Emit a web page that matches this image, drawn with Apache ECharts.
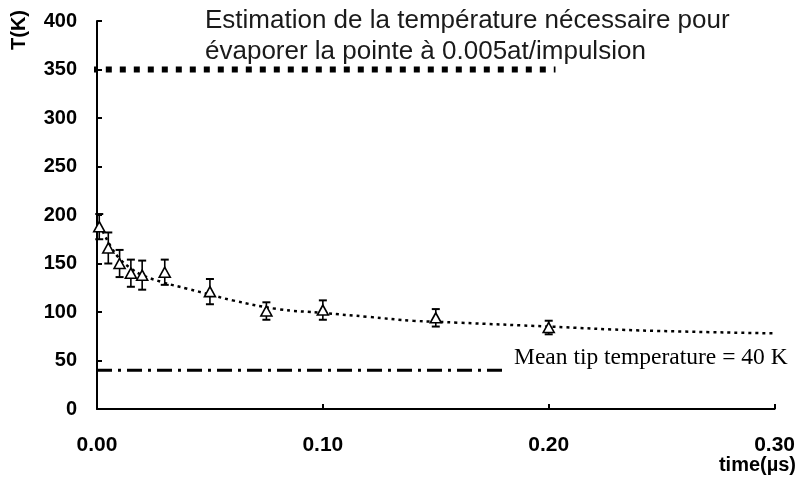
<!DOCTYPE html>
<html>
<head>
<meta charset="utf-8">
<script src="https://cdn.jsdelivr.net/npm/echarts@6/dist/echarts.min.js"></script>
<style>html,body{margin:0;padding:0;background:#fff;}#c{width:798px;height:482px;}</style>
</head>
<body>
<div id="c"></div>
<script>
// measured points (time in µs, temperature in K, error half-width)
const timeUs = [0.001, 0.005, 0.01, 0.015, 0.02, 0.03, 0.05, 0.075, 0.10, 0.15, 0.20];
const tempK = [188, 166, 150, 140, 138, 141, 121, 101, 102, 94, 84];
const tempErr = [13, 16, 14, 14, 15, 13, 13, 9, 10, 9, 7];
// fitted dotted curve
const fitX = [0.001, 0.003, 0.006, 0.01, 0.015, 0.02, 0.03, 0.04, 0.05, 0.06, 0.08, 0.10, 0.12, 0.14, 0.16, 0.20, 0.24, 0.30];
const fitT = [190, 181, 168, 155, 145, 138, 130, 124, 118, 112, 103, 99, 95, 91, 89, 85, 81, 78];
// reference lines
const evapLineX = [-0.0085, 0.203];
const evapLineT = [350, 350];
const meanLineX = [0, 0.18];
const meanLineT = [40, 40];
// texts
const yTicks = [0, 50, 100, 150, 200, 250, 300, 350, 400];
const xTicks = [0, 0.1, 0.2, 0.3];
const titleLines = ['Estimation de la température nécessaire pour', 'évaporer la pointe à 0.005at/impulsion'];
const meanLabel = 'Mean tip temperature = 40 K';
const xName = 'time(µs)';
const yName = 'T(K)';

const zip = (xs, ys) => xs.map((x, i) => [x, ys[i]]);

const chart = echarts.init(document.getElementById('c'), null, {renderer: 'canvas'});
chart.setOption({
  animation: false,
  backgroundColor: '#fff',
  grid: {left: 97, right: 22, top: 21, bottom: 73, containLabel: false},
  xAxis: {
    type: 'value', min: xTicks[0], max: xTicks[xTicks.length - 1], interval: 0.1,
    axisLine: {lineStyle: {color: '#000', width: 2}},
    axisTick: {inside: true, length: 5, lineStyle: {color: '#000', width: 2}},
    splitLine: {show: false},
    axisLabel: {color: '#000', fontFamily: 'Liberation Sans, Arial', fontWeight: 'bold', fontSize: 21, margin: 26,
      formatter: v => v.toFixed(2)}
  },
  yAxis: {
    type: 'value', min: yTicks[0], max: yTicks[yTicks.length - 1], interval: 50,
    axisLine: {show: true, lineStyle: {color: '#000', width: 2}},
    axisTick: {show: true, inside: true, length: 5, lineStyle: {color: '#000', width: 2}},
    splitLine: {show: false},
    axisLabel: {color: '#000', fontFamily: 'Liberation Sans, Arial', fontWeight: 'bold', fontSize: 20, margin: 20}
  },
  graphic: [
    {type: 'text', left: 205, top: 8, style: {text: titleLines[0], font: '26px "Liberation Sans", Arial', fill: '#1a1a1a'}},
    {type: 'text', left: 205, top: 39, style: {text: titleLines[1], font: '26px "Liberation Sans", Arial', fill: '#1a1a1a'}},
    {type: 'text', left: 514, top: 346, style: {text: meanLabel, font: '23.5px "Liberation Serif", "Times New Roman"', fill: '#000'}},
    {type: 'text', right: 2, top: 455, style: {text: xName, font: 'bold 20px "Liberation Sans", Arial', fill: '#000'}},
    {type: 'text', x: 19, y: 30, rotation: Math.PI / 2, style: {text: yName, font: 'bold 20px "Liberation Sans", Arial', fill: '#000', textAlign: 'center', textVerticalAlign: 'middle'}}
  ],
  series: [
    {
      type: 'line', data: zip(evapLineX, evapLineT), symbol: 'none', clip: false, silent: true,
      lineStyle: {color: '#000', width: 6, type: [6, 8], cap: 'butt'}
    },
    {
      type: 'line', data: zip(meanLineX, meanLineT), symbol: 'none', clip: false, silent: true,
      lineStyle: {color: '#000', width: 3, type: [15, 6, 3, 6], cap: 'butt'}
    },
    {
      type: 'line', data: zip(fitX, fitT), symbol: 'none', smooth: 0.4, silent: true,
      lineStyle: {color: '#000', width: 2.5, type: [3, 4], cap: 'butt'}
    },
    {
      type: 'custom', silent: true,
      data: timeUs.map((x, i) => [x, tempK[i] - tempErr[i], tempK[i] + tempErr[i]]),
      renderItem: function (params, api) {
        const lo = api.coord([api.value(0), api.value(1)]);
        const hi = api.coord([api.value(0), api.value(2)]);
        const w = 4;
        const st = {stroke: '#000', lineWidth: 1.6};
        return {type: 'group', children: [
          {type: 'line', shape: {x1: lo[0], y1: lo[1], x2: hi[0], y2: hi[1]}, style: st},
          {type: 'line', shape: {x1: lo[0] - w, y1: lo[1], x2: lo[0] + w, y2: lo[1]}, style: {stroke: '#000', lineWidth: 2}},
          {type: 'line', shape: {x1: hi[0] - w, y1: hi[1], x2: hi[0] + w, y2: hi[1]}, style: {stroke: '#000', lineWidth: 2}}
        ]};
      },
      z: 3
    },
    {
      type: 'scatter', data: zip(timeUs, tempK), symbol: 'triangle', symbolSize: [11, 10], silent: true,
      itemStyle: {color: '#fff', borderColor: '#000', borderWidth: 1.6, opacity: 1}, z: 4
    }
  ]
});
</script>
</body>
</html>
